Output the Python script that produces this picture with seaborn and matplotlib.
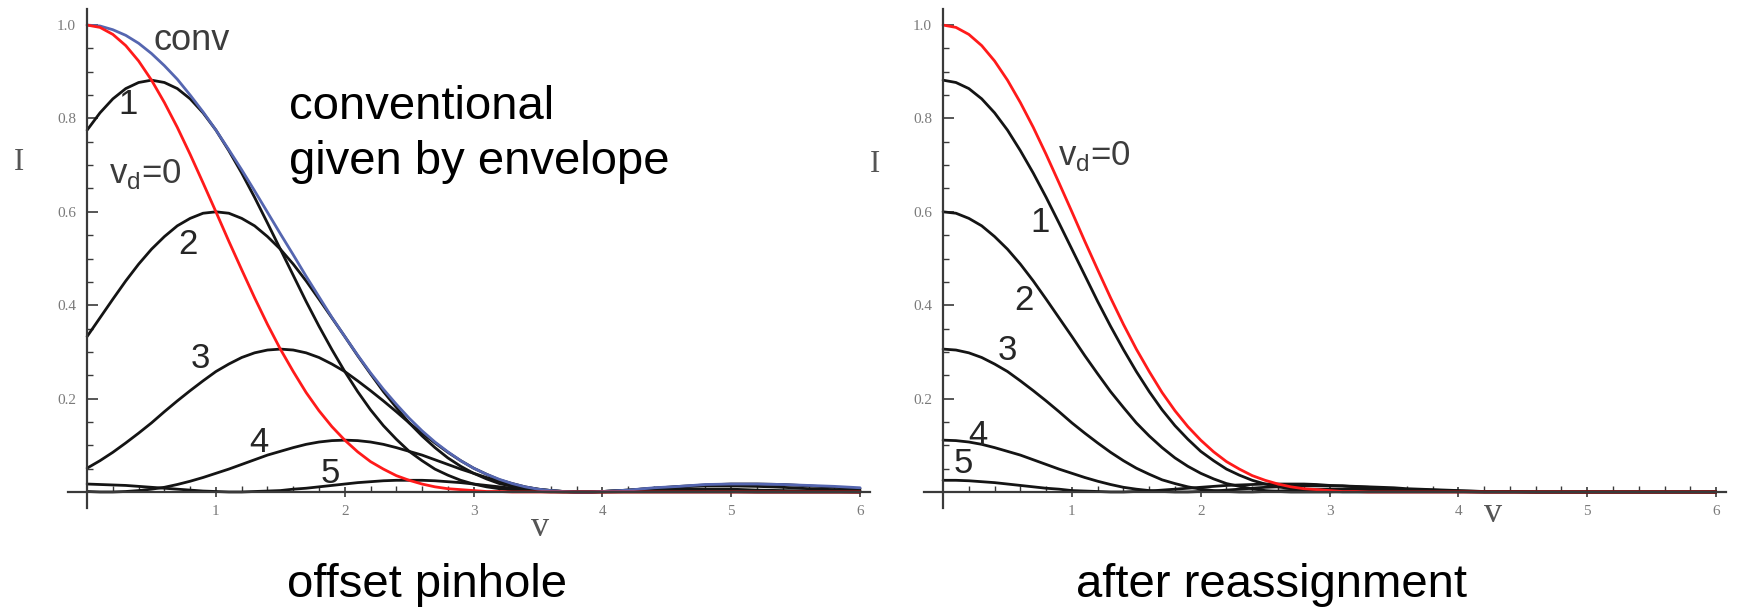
import numpy as np
import pandas as pd
import matplotlib
matplotlib.use('Agg')
import matplotlib.pyplot as plt
import seaborn as sns

sns.set_theme(style="white")
plt.rcParams['font.family'] = ['Liberation Sans', 'DejaVu Sans']

# sampling of the normalised optical coordinate v (fine up to 4, coarser in the flat tail)
V_GRID = [0.0, 0.1, 0.2, 0.3, 0.4, 0.5, 0.6, 0.7, 0.8, 0.9,
          1.0, 1.1, 1.2, 1.3, 1.4, 1.5, 1.6, 1.7, 1.8, 1.9,
          2.0, 2.1, 2.2, 2.3, 2.4, 2.5, 2.6, 2.7, 2.8, 2.9,
          3.0, 3.1, 3.2, 3.3, 3.4, 3.5, 3.6, 3.7, 3.8, 3.9,
          4.0, 4.2, 4.4, 4.6, 4.8, 5.0, 5.2, 5.4, 5.6, 5.8, 6.0]

# left panel: offset pinhole
conv_env = [1.000, 0.998, 0.990, 0.978, 0.961, 0.939, 0.913, 0.884, 0.850, 0.814,
            0.775, 0.733, 0.690, 0.645, 0.599, 0.553, 0.508, 0.462, 0.418, 0.374,
            0.333, 0.293, 0.255, 0.220, 0.188, 0.158, 0.131, 0.107, 0.086, 0.067,
            0.051, 0.038, 0.027, 0.018, 0.011, 0.006, 0.003, 0.001, 0.000, 0.000,
            0.001, 0.004, 0.009, 0.012, 0.016, 0.017, 0.017, 0.016, 0.014, 0.012, 0.009]
vd0 = [1.000, 0.995, 0.980, 0.956, 0.923, 0.882, 0.834, 0.781, 0.723, 0.662,
       0.600, 0.537, 0.476, 0.416, 0.359, 0.306, 0.258, 0.213, 0.174, 0.140,
       0.111, 0.086, 0.065, 0.049, 0.035, 0.025, 0.017, 0.011, 0.007, 0.005,
       0.003, 0.001, 0.001, 0.000, 0.000, 0.000, 0.000, 0.000, 0.000, 0.000,
       0.000, 0.000, 0.000, 0.000, 0.000, 0.000, 0.000, 0.000, 0.000, 0.000, 0.000]
off1 = [0.775, 0.812, 0.842, 0.864, 0.877, 0.882, 0.877, 0.864, 0.842, 0.812,
        0.775, 0.731, 0.683, 0.631, 0.576, 0.520, 0.464, 0.408, 0.355, 0.305,
        0.258, 0.215, 0.176, 0.142, 0.113, 0.087, 0.067, 0.049, 0.036, 0.025,
        0.017, 0.011, 0.007, 0.004, 0.002, 0.001, 0.000, 0.000, 0.000, 0.000,
        0.000, 0.000, 0.000, 0.000, 0.000, 0.000, 0.000, 0.000, 0.000, 0.000, 0.000]
off2 = [0.333, 0.373, 0.413, 0.452, 0.488, 0.520, 0.547, 0.570, 0.586, 0.597,
        0.600, 0.597, 0.586, 0.570, 0.547, 0.520, 0.488, 0.452, 0.413, 0.373,
        0.333, 0.292, 0.253, 0.215, 0.181, 0.148, 0.120, 0.095, 0.073, 0.055,
        0.040, 0.028, 0.018, 0.012, 0.007, 0.003, 0.001, 0.000, 0.000, 0.000,
        0.000, 0.001, 0.002, 0.002, 0.001, 0.001, 0.000, 0.000, 0.000, 0.000, 0.000]
off3 = [0.051, 0.067, 0.085, 0.105, 0.126, 0.148, 0.172, 0.195, 0.217, 0.238,
        0.258, 0.274, 0.288, 0.298, 0.304, 0.306, 0.304, 0.298, 0.288, 0.274,
        0.258, 0.238, 0.217, 0.195, 0.172, 0.148, 0.126, 0.105, 0.085, 0.067,
        0.051, 0.038, 0.026, 0.018, 0.011, 0.006, 0.003, 0.001, 0.000, 0.000,
        0.001, 0.003, 0.005, 0.006, 0.006, 0.006, 0.004, 0.003, 0.002, 0.001, 0.000]
off4 = [0.001, 0.000, 0.000, 0.001, 0.003, 0.006, 0.010, 0.016, 0.023, 0.031,
        0.040, 0.049, 0.059, 0.069, 0.079, 0.087, 0.095, 0.102, 0.107, 0.110,
        0.111, 0.110, 0.107, 0.102, 0.095, 0.087, 0.079, 0.069, 0.059, 0.049,
        0.040, 0.031, 0.023, 0.016, 0.010, 0.006, 0.003, 0.001, 0.000, 0.000,
        0.001, 0.004, 0.008, 0.011, 0.013, 0.013, 0.012, 0.010, 0.007, 0.005, 0.003]
off5 = [0.017, 0.016, 0.015, 0.014, 0.012, 0.010, 0.008, 0.006, 0.004, 0.002,
        0.001, 0.000, 0.000, 0.001, 0.002, 0.003, 0.006, 0.008, 0.011, 0.014,
        0.017, 0.020, 0.022, 0.024, 0.025, 0.025, 0.025, 0.024, 0.022, 0.020,
        0.017, 0.014, 0.011, 0.008, 0.006, 0.003, 0.002, 0.001, 0.000, 0.000,
        0.001, 0.004, 0.008, 0.012, 0.015, 0.017, 0.017, 0.016, 0.013, 0.010, 0.007]

# right panel: after reassignment (v_d = 0 curve is the same red one)
re1 = [0.882, 0.877, 0.864, 0.842, 0.812, 0.775, 0.731, 0.683, 0.631, 0.576,
       0.520, 0.464, 0.408, 0.355, 0.305, 0.258, 0.215, 0.176, 0.142, 0.113,
       0.087, 0.067, 0.049, 0.036, 0.025, 0.017, 0.011, 0.007, 0.004, 0.002,
       0.001, 0.000, 0.000, 0.000, 0.000, 0.000, 0.000, 0.000, 0.000, 0.000,
       0.000, 0.000, 0.000, 0.000, 0.000, 0.000, 0.000, 0.000, 0.000, 0.000, 0.000]
re2 = [0.600, 0.597, 0.586, 0.570, 0.547, 0.520, 0.488, 0.452, 0.413, 0.373,
       0.333, 0.292, 0.253, 0.215, 0.181, 0.148, 0.120, 0.095, 0.073, 0.055,
       0.040, 0.028, 0.018, 0.012, 0.007, 0.003, 0.001, 0.000, 0.000, 0.000,
       0.000, 0.001, 0.001, 0.001, 0.002, 0.002, 0.002, 0.002, 0.001, 0.001,
       0.001, 0.000, 0.000, 0.000, 0.000, 0.000, 0.000, 0.000, 0.000, 0.000, 0.000]
re3 = [0.306, 0.304, 0.298, 0.288, 0.274, 0.258, 0.238, 0.217, 0.195, 0.172,
       0.148, 0.126, 0.105, 0.085, 0.067, 0.051, 0.038, 0.026, 0.018, 0.011,
       0.006, 0.003, 0.001, 0.000, 0.000, 0.001, 0.002, 0.003, 0.004, 0.005,
       0.006, 0.006, 0.007, 0.006, 0.006, 0.006, 0.005, 0.004, 0.004, 0.003,
       0.002, 0.001, 0.001, 0.000, 0.000, 0.000, 0.000, 0.000, 0.000, 0.000, 0.000]
re4 = [0.111, 0.110, 0.107, 0.102, 0.095, 0.087, 0.079, 0.069, 0.059, 0.049,
       0.040, 0.031, 0.023, 0.016, 0.010, 0.006, 0.003, 0.001, 0.000, 0.000,
       0.001, 0.002, 0.004, 0.006, 0.008, 0.010, 0.011, 0.012, 0.013, 0.013,
       0.013, 0.013, 0.012, 0.011, 0.010, 0.009, 0.007, 0.006, 0.005, 0.004,
       0.003, 0.001, 0.001, 0.000, 0.000, 0.000, 0.000, 0.000, 0.000, 0.000, 0.000]
re5 = [0.025, 0.025, 0.024, 0.022, 0.020, 0.017, 0.014, 0.011, 0.008, 0.006,
       0.003, 0.002, 0.001, 0.000, 0.000, 0.001, 0.002, 0.004, 0.006, 0.008,
       0.010, 0.012, 0.014, 0.015, 0.016, 0.017, 0.017, 0.017, 0.017, 0.016,
       0.014, 0.013, 0.011, 0.010, 0.008, 0.007, 0.005, 0.004, 0.003, 0.002,
       0.001, 0.000, 0.000, 0.000, 0.000, 0.000, 0.000, 0.000, 0.000, 0.000, 0.000]

BLACK = '#141414'
RED = '#ff1a1a'
BLUE = '#5566b0'
AXIS = '#3a3a3a'
TICKLBL = '#7a7a7a'


def long_frame(series):
    parts = []
    for name, ys in series:
        parts.append(pd.DataFrame({'v': V_GRID, 'I': ys, 'curve': name}))
    return pd.concat(parts, ignore_index=True)


df_left = long_frame([('1', off1), ('2', off2), ('3', off3), ('4', off4), ('5', off5),
                      ('conv', conv_env), ('0', vd0)])
df_right = long_frame([('1', re1), ('2', re2), ('3', re3), ('4', re4), ('5', re5),
                       ('0', vd0)])

palette = {'1': BLACK, '2': BLACK, '3': BLACK, '4': BLACK, '5': BLACK,
           'conv': BLUE, '0': RED}

fig = plt.figure(figsize=(17.38, 6.10), dpi=100)
fig.patch.set_facecolor('white')
axL = fig.add_axes([0.0390, 0.1667, 0.4618, 0.819])
axR = fig.add_axes([0.5315, 0.1667, 0.4618, 0.819])


def style_axes(ax):
    ax.set_xlim(-0.15, 6.08)
    ax.set_ylim(-0.035, 1.035)
    ax.set_facecolor('white')
    ax.spines['top'].set_visible(False)
    ax.spines['right'].set_visible(False)
    for side in ['left', 'bottom']:
        ax.spines[side].set_position(('data', 0))
        ax.spines[side].set_color(AXIS)
        ax.spines[side].set_linewidth(1.6)
    ax.set_xticks([1, 2, 3, 4, 5, 6])
    ax.set_xticklabels(['1', '2', '3', '4', '5', '6'])
    ax.set_xticks(np.arange(0.2, 6.01, 0.2), minor=True)
    ax.set_yticks([0.2, 0.4, 0.6, 0.8, 1.0])
    ax.set_yticklabels(['0.2', '0.4', '0.6', '0.8', '1.0'])
    ax.set_yticks(np.arange(0.05, 1.01, 0.05), minor=True)
    ax.tick_params(axis='x', which='major', direction='inout', length=7, width=1.2,
                   color=AXIS, pad=6, labelsize=11, labelcolor=TICKLBL, bottom=True)
    ax.tick_params(axis='x', which='minor', direction='in', length=4, width=1.0,
                   color=AXIS, bottom=True)
    ax.tick_params(axis='y', which='major', direction='in', length=8, width=1.2,
                   color=AXIS, pad=8, labelsize=11, labelcolor=TICKLBL, left=True)
    ax.tick_params(axis='y', which='minor', direction='in', length=4, width=1.0,
                   color=AXIS, left=True)
    for lbl in ax.get_xticklabels() + ax.get_yticklabels():
        lbl.set_family('Liberation Serif')
    ax.set_xlabel('')
    ax.set_ylabel('')
    ax.grid(False)


sns.lineplot(data=df_left, x='v', y='I', hue='curve', palette=palette,
             hue_order=['1', '2', '3', '4', '5', 'conv', '0'],
             estimator=None, sort=False, legend=False, linewidth=2.0, ax=axL)
sns.lineplot(data=df_right, x='v', y='I', hue='curve', palette=palette,
             hue_order=['1', '2', '3', '4', '5', '0'],
             estimator=None, sort=False, legend=False, linewidth=2.0, ax=axR)

for ax in (axL, axR):
    style_axes(ax)

# curve labels, left panel
lab_kw = dict(fontsize=25, color='#262626', ha='center', va='center')
axL.text(0.81, 0.966, 'conv', fontsize=26, color='#3c3c3c', ha='center', va='center')
axL.text(0.32, 0.829, '1', **lab_kw)
axL.text(0.17, 0.680, r'v$_\mathregular{d}$=0', fontsize=25, color='#3c3c3c', ha='left', va='center')
axL.text(0.78, 0.529, '2', **lab_kw)
axL.text(0.88, 0.285, '3', **lab_kw)
axL.text(1.33, 0.105, '4', **lab_kw)
axL.text(1.89, 0.039, '5', **lab_kw)

# curve labels, right panel
axR.text(0.89, 0.720, r'v$_\mathregular{d}$=0', fontsize=25, color='#3c3c3c', ha='left', va='center')
axR.text(0.75, 0.578, '1', **lab_kw)
axR.text(0.63, 0.411, '2', **lab_kw)
axR.text(0.50, 0.302, '3', **lab_kw)
axR.text(0.27, 0.122, '4', **lab_kw)
axR.text(0.155, 0.060, '5', **lab_kw)

# axis labels in the Mathematica style
W, H = 1738.0, 610.0
ser = dict(family='Liberation Serif', color='#555555')
fig.text(19 / W, 1 - 163 / H, 'I', fontsize=22, ha='center', va='center', **ser)
fig.text(875 / W, 1 - 165 / H, 'I', fontsize=22, ha='center', va='center', **ser)
fig.text(540 / W, 1 - 528 / H, 'v', fontsize=26, ha='center', va='center', **ser)
fig.text(1493 / W, 1 - 513 / H, 'v', fontsize=26, ha='center', va='center', **ser)

# slide annotations
fig.text(289 / W, 1 - 119 / H, 'conventional', fontsize=34, color='black',
         ha='left', va='baseline')
fig.text(289 / W, 1 - 174 / H, 'given by envelope', fontsize=34, color='black',
         ha='left', va='baseline')
fig.text(427 / W, 1 - 597 / H, 'offset pinhole', fontsize=34, color='black',
         ha='center', va='baseline')
fig.text(1271 / W, 1 - 597 / H, 'after reassignment', fontsize=34, color='black',
         ha='center', va='baseline')

fig.savefig('out.png', dpi=100)
plt.close(fig)
